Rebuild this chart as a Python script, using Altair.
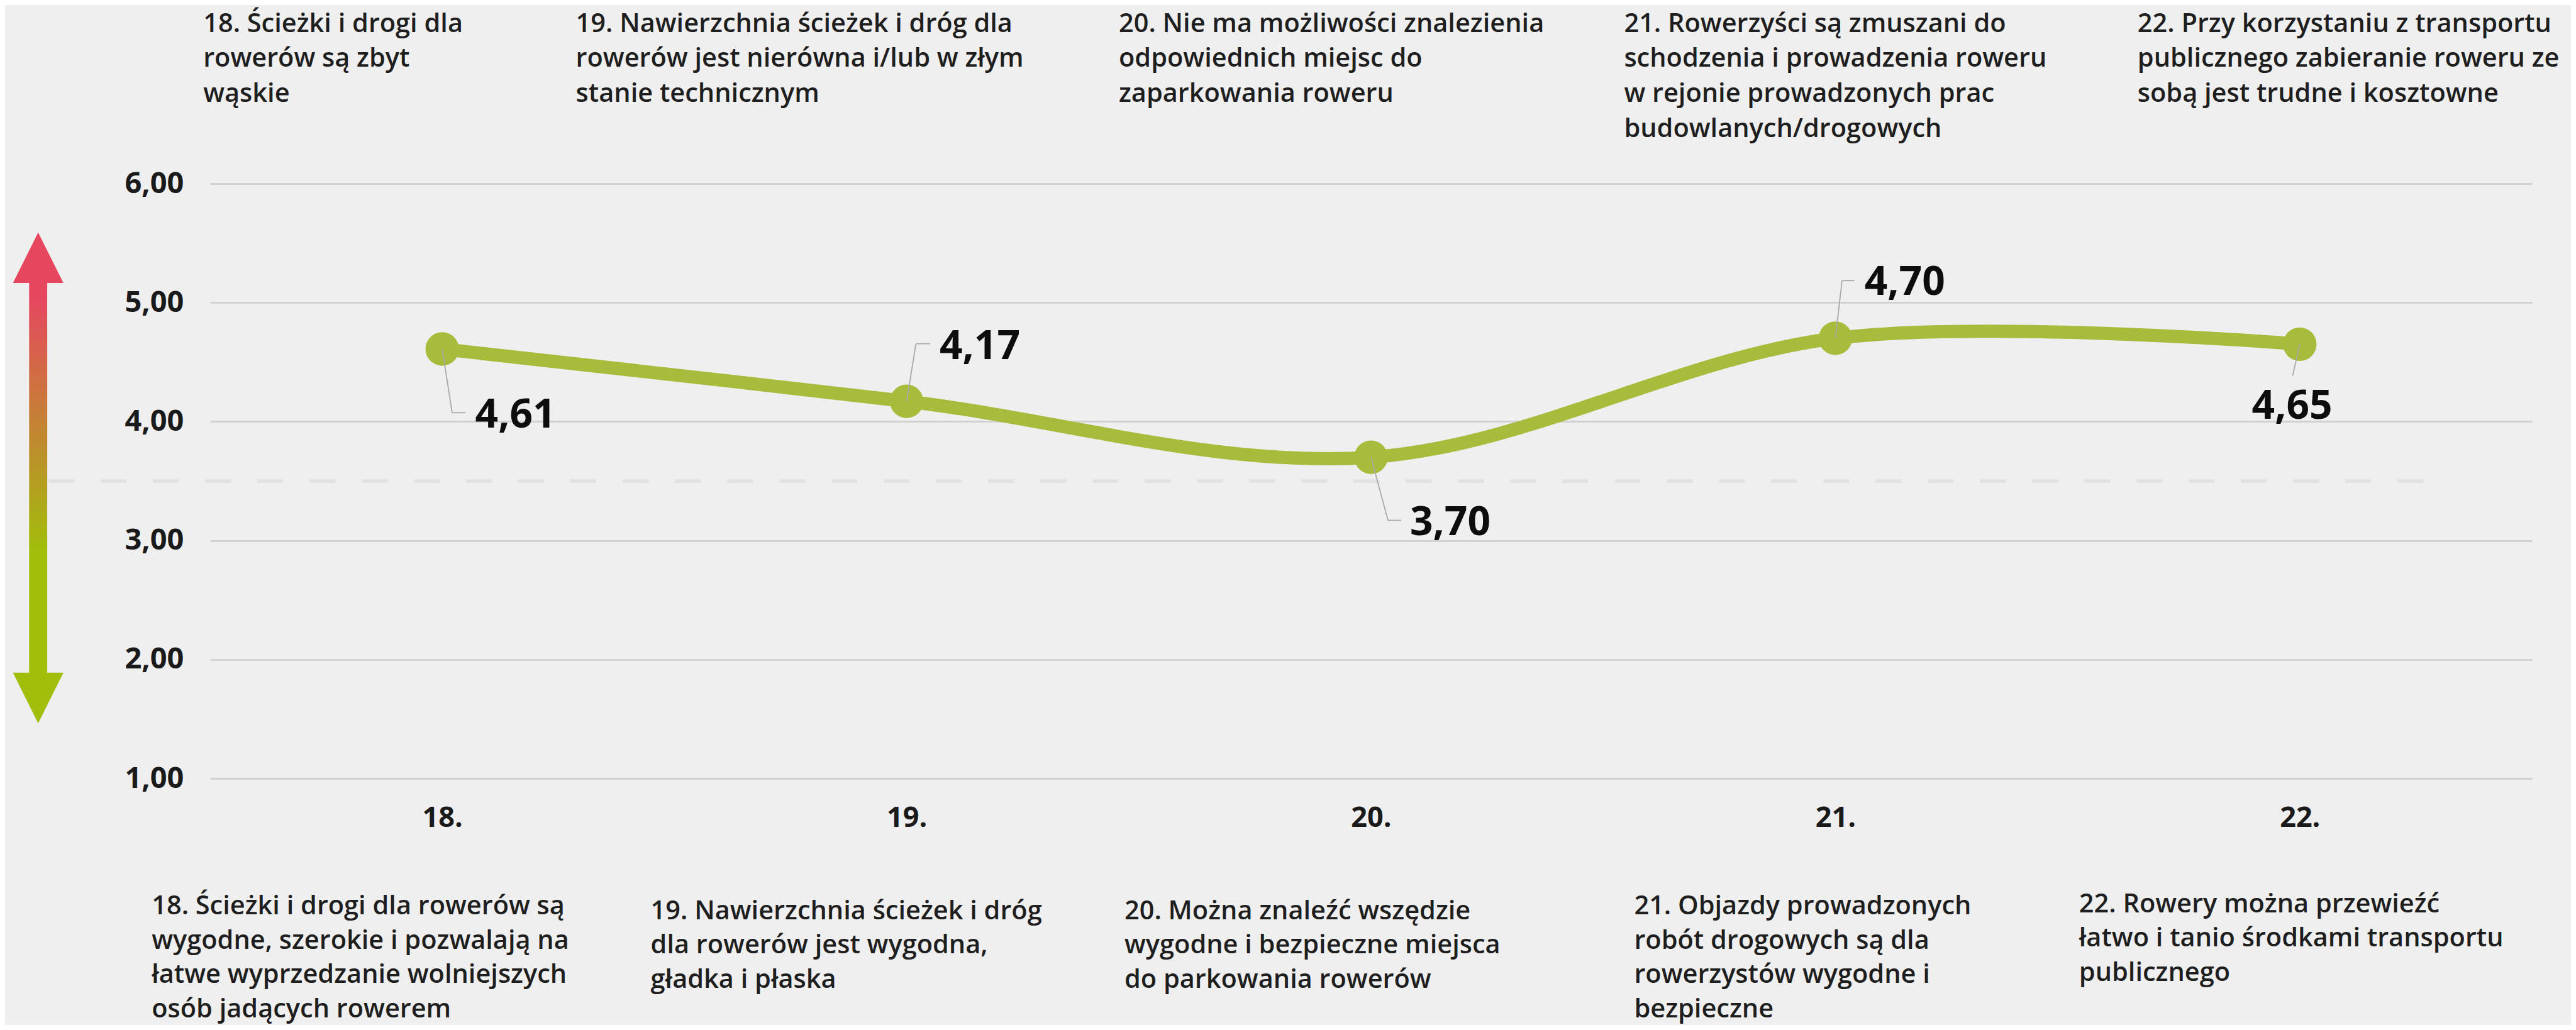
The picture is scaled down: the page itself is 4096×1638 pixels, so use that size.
import altair as alt
import pandas as pd

# ---------------- data ----------------
categories = ["18.", "19.", "20.", "21.", "22."]
values = [4.61, 4.17, 3.70, 4.70, 4.65]
y_ticks = [1, 2, 3, 4, 5, 6]
neutral_level = 3.5

top_texts = [
    "18. Ścieżki i drogi dla\nrowerów są zbyt\nwąskie",
    "19. Nawierzchnia ścieżek i dróg dla\nrowerów jest nierówna i/lub w złym\nstanie technicznym",
    "20. Nie ma możliwości znalezienia\nodpowiednich miejsc do\nzaparkowania roweru",
    "21. Rowerzyści są zmuszani do\nschodzenia i prowadzenia roweru\nw rejonie prowadzonych prac\nbudowlanych/drogowych",
    "22. Przy korzystaniu z transportu\npublicznego zabieranie roweru ze\nsobą jest trudne i kosztowne",
]
bottom_texts = [
    "18. Ścieżki i drogi dla rowerów są\nwygodne, szerokie i pozwalają na\nłatwe wyprzedzanie wolniejszych\nosób jadących rowerem",
    "19. Nawierzchnia ścieżek i dróg\ndla rowerów jest wygodna,\ngładka i płaska",
    "20. Można znaleźć wszędzie\nwygodne i bezpieczne miejsca\ndo parkowania rowerów",
    "21. Objazdy prowadzonych\nrobót drogowych są dla\nrowerzystów wygodne i\nbezpieczne",
    "22. Rowery można przewieźć\nłatwo i tanio środkami transportu\npublicznego",
]

df = pd.DataFrame({
    "cat": categories,
    "value": values,
    "top": top_texts,
    "bottom": bottom_texts,
})
df["label"] = [f"{v:.2f}".replace(".", ",") for v in values]

# ---------------- style ----------------
FONT = "Open Sans"
GREEN = "#a8bb3b"
BG = "#efefef"
TXT = "#1e1e1e"
W, H = 3692, 946

# text offsets (px, relative to each category centre)
top_dx = [-380, -526, -401, -336, -258]
top_y = -241.5
bottom_dx = [-462, -407, -392, -320, -351]
bottom_y = [1162.4, 1169.9, 1169.9, 1162.3, 1158.6]
line_h = 55.9
line_h_bottom = 54.5

# value label leader geometry (slant end, horizontal end, label dx, dy, align)
leaders = [
    dict(sx=15.7, sy=101.3, hx=36.7, dx=52.4, dy=124.8, align="left"),
    dict(sx=14.8, sy=-91.7, hx=37.5, dx=52.4, dy=-67.2, align="left"),
    dict(sx=27.0, sy=100.4, hx=48.0, dx=62.0, dy=124.1, align="left"),
    dict(sx=10.5, sy=-91.7, hx=30.6, dx=46.3, dy=-68.9, align="left"),
    dict(sx=-11.3, sy=49.8, hx=None, dx=-12.2, dy=118.8, align="center"),
]

x_enc = alt.X(
    "cat:N",
    sort=categories,
    scale=alt.Scale(type="point", padding=0.5, domain=categories),
    axis=alt.Axis(
        title=None, domain=False, ticks=False, tickSize=0, grid=False,
        labelPadding=62, labelBaseline="middle", labelAngle=0,
        labelFont=FONT, labelFontSize=45, labelFontWeight=700, labelColor="#1a1a1a",
    ),
)
y_enc = alt.Y(
    "value:Q",
    scale=alt.Scale(domain=[1, 6], nice=False, zero=False),
    axis=alt.Axis(
        title=None, values=y_ticks, domain=False, ticks=False, tickSize=0,
        labelExpr="replace(format(datum.value, '.2f'), '.', ',')",
        labelPadding=42, labelFont=FONT, labelFontSize=47, labelFontWeight=700,
        labelColor="#1a1a1a", grid=True, gridColor="#d2d2d2", gridWidth=3,
    ),
)

base = alt.Chart(df)
one = alt.Chart(pd.DataFrame({"k": [0]}))

layers = []

# neutral dashed level
layers.append(
    one.mark_rule(color="#e2e2e2", strokeWidth=6, strokeDash=[41, 42]).encode(
        y=alt.datum(neutral_level), x=alt.value(-256.7), x2=alt.value(3554)
    )
)

# gradient arrow on the left
AX = -273.3
grad = alt.Gradient(
    gradient="linear", x1=0, y1=0, x2=0, y2=1,
    stops=[
        alt.GradientStop(offset=0, color="#e6475f"),
        alt.GradientStop(offset=0.04, color="#e6475f"),
        alt.GradientStop(offset=0.68, color="#a2bd0a"),
        alt.GradientStop(offset=1, color="#a2bd0a"),
    ],
)
layers.append(
    one.mark_rect(fill=grad).encode(
        x=alt.value(AX - 14.4), x2=alt.value(AX + 14.4),
        y=alt.value(155), y2=alt.value(781),
    )
)
layers.append(
    one.mark_point(shape="M0,-1L1,1L-1,1Z", filled=True, size=6448,
                   color="#e6475f", opacity=1, strokeWidth=0).encode(
        x=alt.value(AX), y=alt.value(117.9)
    )
)
layers.append(
    one.mark_point(shape="M0,1L1,-1L-1,-1Z", filled=True, size=6448,
                   color="#a2bd0a", opacity=1, strokeWidth=0).encode(
        x=alt.value(AX), y=alt.value(818)
    )
)

# line and points
layers.append(
    base.mark_line(interpolate="cardinal", strokeWidth=21, color=GREEN,
                   strokeCap="round").encode(x=x_enc, y=y_enc)
)
layers.append(
    base.mark_circle(size=2840, color=GREEN, opacity=1).encode(x=x_enc, y=y_enc)
)

# leaders + value labels
for c, g in zip(categories, leaders):
    sub = base.transform_filter(alt.datum.cat == c)
    layers.append(
        sub.mark_rule(color="#a9a9a9", strokeWidth=1.8,
                      x2Offset=g["sx"], y2Offset=g["sy"]).encode(
            x=x_enc, y=y_enc, x2="cat:N", y2="value:Q"
        )
    )
    if g["hx"] is not None:
        layers.append(
            sub.mark_rule(color="#a9a9a9", strokeWidth=1.8,
                          xOffset=g["sx"], yOffset=g["sy"],
                          x2Offset=g["hx"], y2Offset=g["sy"]).encode(
                x=x_enc, y=y_enc, x2="cat:N", y2="value:Q"
            )
        )
    layers.append(
        sub.mark_text(align=g["align"], baseline="alphabetic", dx=g["dx"], dy=g["dy"],
                      font=FONT, fontSize=64, fontWeight=700, color="#0d0d0d").encode(
            x=x_enc, y=y_enc, text="label:N"
        )
    )

# statement texts above and below
for i, c in enumerate(categories):
    sub = base.transform_filter(alt.datum.cat == c)
    layers.append(
        sub.mark_text(align="left", baseline="alphabetic", lineBreak="\n",
                      lineHeight=line_h, dx=top_dx[i], font=FONT, fontSize=41.5,
                      fontWeight=600, color=TXT).encode(
            x=x_enc, y=alt.value(top_y), text="top:N"
        )
    )
    layers.append(
        sub.mark_text(align="left", baseline="alphabetic", lineBreak="\n",
                      lineHeight=line_h_bottom, dx=bottom_dx[i], font=FONT, fontSize=41.5,
                      fontWeight=600, color=TXT).encode(
            x=x_enc, y=alt.value(bottom_y[i]), text="bottom:N"
        )
    )

chart = (
    alt.layer(*layers)
    .properties(
        width=W, height=H,
        padding={"left": 326, "top": 284, "right": 62, "bottom": 392},
        autosize=alt.AutoSizeParams(type="none"),
        background=BG,
    )
    .configure_view(stroke=None)
)

chart.save("out.html", embed_options={"renderer": "svg", "actions": False})
